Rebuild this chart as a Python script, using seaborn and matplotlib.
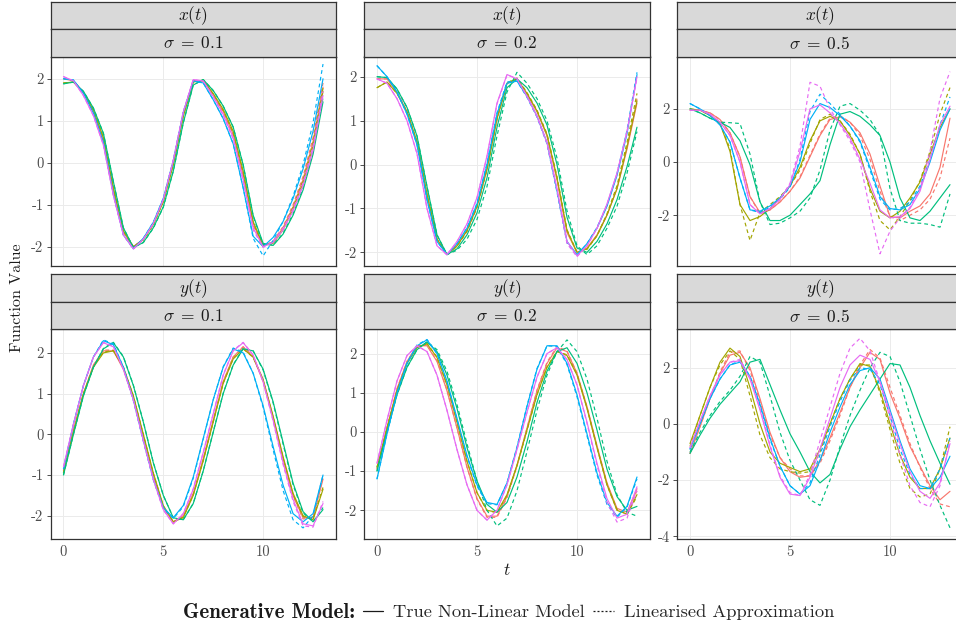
import matplotlib
matplotlib.use("Agg")
import matplotlib.pyplot as plt
import pandas as pd
import seaborn as sns
from matplotlib.lines import Line2D

# time grid shared by every curve
t_grid = [0.0, 0.5, 1.0, 1.5, 2.0, 2.5, 3.0, 3.5, 4.0, 4.5, 5.0, 5.5, 6.0, 6.5,
          7.0, 7.5, 8.0, 8.5, 9.0, 9.5, 10.0, 10.5, 11.0, 11.5, 12.0, 12.5, 13.0]

runs = ["1", "2", "3", "4", "5"]
run_colours = ["#F8766D", "#A3A500", "#00BF7D", "#00B0F6", "#E76BF3"]
models = ["True Non-Linear Model", "Linearised Approximation"]
components = ["x", "y"]
sigmas = ["0.1", "0.2", "0.5"]

# ---- x(t), sigma = 0.1
xa_red_true = [2.0, 1.95, 1.68, 1.22, 0.55, -0.65, -1.65, -2.0, -1.82, -1.45, -0.9, 0.0, 1.15, 1.95, 1.95, 1.62, 1.22, 0.68, -0.3, -1.45, -1.98, -1.88, -1.55, -1.05, -0.4, 0.5, 1.8]
xa_red_lin = [2.0, 1.95, 1.68, 1.22, 0.55, -0.65, -1.65, -2.0, -1.83, -1.46, -0.9, 0.02, 1.17, 1.96, 1.94, 1.6, 1.2, 0.65, -0.35, -1.5, -2.0, -1.87, -1.52, -1.0, -0.33, 0.6, 1.9]
xa_olive_true = [1.9, 1.92, 1.68, 1.25, 0.6, -0.6, -1.62, -2.0, -1.83, -1.47, -0.93, -0.05, 1.1, 1.92, 1.97, 1.65, 1.27, 0.75, -0.2, -1.4, -1.97, -1.92, -1.6, -1.1, -0.48, 0.4, 1.7]
xa_olive_lin = [1.9, 1.92, 1.68, 1.25, 0.6, -0.6, -1.62, -2.0, -1.84, -1.48, -0.93, -0.04, 1.12, 1.93, 1.96, 1.63, 1.25, 0.72, -0.25, -1.43, -1.98, -1.9, -1.57, -1.06, -0.42, 0.48, 1.78]
xa_green_true = [1.88, 1.92, 1.7, 1.3, 0.7, -0.45, -1.55, -2.02, -1.9, -1.55, -1.05, -0.2, 0.95, 1.85, 1.98, 1.72, 1.35, 0.85, -0.05, -1.25, -1.92, -1.97, -1.7, -1.25, -0.65, 0.2, 1.45]
xa_green_lin = [1.88, 1.92, 1.7, 1.3, 0.7, -0.45, -1.55, -2.02, -1.9, -1.56, -1.06, -0.2, 0.95, 1.85, 1.98, 1.72, 1.35, 0.85, -0.05, -1.27, -1.95, -1.96, -1.68, -1.22, -0.6, 0.28, 1.55]
xa_blue_true = [2.0, 1.97, 1.65, 1.18, 0.48, -0.75, -1.72, -2.05, -1.8, -1.42, -0.85, 0.05, 1.2, 1.95, 1.9, 1.5, 1.05, 0.45, -0.6, -1.75, -2.0, -1.78, -1.4, -0.85, -0.15, 0.75, 2.0]
xa_blue_lin = [2.0, 1.97, 1.65, 1.18, 0.48, -0.75, -1.72, -2.05, -1.8, -1.42, -0.85, 0.05, 1.2, 1.95, 1.9, 1.5, 1.05, 0.45, -0.6, -1.8, -2.22, -1.85, -1.4, -0.8, -0.05, 0.95, 2.35]
xa_magenta_true = [2.05, 1.95, 1.6, 1.12, 0.42, -0.78, -1.72, -2.05, -1.82, -1.45, -0.88, 0.05, 1.2, 1.98, 1.95, 1.58, 1.15, 0.6, -0.4, -1.55, -2.0, -1.9, -1.6, -1.15, -0.55, 0.3, 1.6]
xa_magenta_lin = [2.05, 1.95, 1.6, 1.12, 0.42, -0.78, -1.72, -2.06, -1.83, -1.45, -0.87, 0.07, 1.22, 1.98, 1.94, 1.56, 1.12, 0.56, -0.45, -1.6, -2.02, -1.88, -1.56, -1.1, -0.48, 0.4, 1.7]

# ---- x(t), sigma = 0.2
xb_red_true = [1.95, 1.95, 1.65, 1.2, 0.5, -0.7, -1.7, -2.05, -1.85, -1.5, -0.95, -0.1, 1.05, 1.85, 1.95, 1.6, 1.2, 0.65, -0.35, -1.55, -2.0, -1.9, -1.6, -1.15, -0.55, 0.35, 1.4]
xb_red_lin = [1.95, 1.95, 1.65, 1.2, 0.5, -0.7, -1.7, -2.05, -1.86, -1.52, -0.98, -0.12, 1.02, 1.85, 1.96, 1.62, 1.22, 0.66, -0.33, -1.52, -2.0, -1.92, -1.62, -1.15, -0.52, 0.4, 1.5]
xb_olive_true = [1.75, 1.88, 1.62, 1.2, 0.52, -0.68, -1.7, -2.05, -1.85, -1.5, -0.95, -0.1, 1.05, 1.85, 1.95, 1.62, 1.22, 0.68, -0.3, -1.5, -2.0, -1.92, -1.62, -1.15, -0.55, 0.4, 1.45]
xb_olive_lin = [1.75, 1.88, 1.62, 1.2, 0.52, -0.68, -1.7, -2.05, -1.86, -1.52, -0.97, -0.1, 1.05, 1.86, 1.97, 1.64, 1.24, 0.7, -0.27, -1.48, -2.0, -1.93, -1.62, -1.12, -0.48, 0.5, 1.62]
xb_green_true = [2.0, 1.98, 1.72, 1.3, 0.65, -0.5, -1.6, -2.05, -1.92, -1.6, -1.1, -0.3, 0.85, 1.75, 1.95, 1.75, 1.4, 0.9, 0.0, -1.2, -1.9, -2.0, -1.75, -1.35, -0.8, -0.05, 0.85]
xb_green_lin = [2.0, 1.98, 1.72, 1.3, 0.65, -0.5, -1.6, -2.05, -1.95, -1.7, -1.25, -0.5, 0.65, 1.65, 2.1, 1.85, 1.5, 1.0, 0.15, -1.05, -1.85, -2.05, -1.85, -1.45, -0.95, -0.2, 0.75]
xb_blue_true = [2.25, 2.0, 1.65, 1.15, 0.45, -0.8, -1.75, -2.05, -1.8, -1.45, -0.9, 0.0, 1.15, 1.85, 1.9, 1.55, 1.1, 0.5, -0.6, -1.75, -2.05, -1.8, -1.45, -0.95, -0.25, 0.7, 2.05]
xb_blue_lin = [2.25, 2.0, 1.65, 1.15, 0.45, -0.8, -1.75, -2.05, -1.8, -1.44, -0.88, 0.03, 1.18, 1.88, 1.9, 1.53, 1.08, 0.47, -0.63, -1.78, -2.07, -1.8, -1.43, -0.92, -0.2, 0.78, 2.1]
xb_magenta_true = [1.95, 1.85, 1.5, 1.0, 0.25, -1.0, -1.85, -2.05, -1.75, -1.35, -0.75, 0.2, 1.4, 2.05, 1.95, 1.55, 1.1, 0.5, -0.55, -1.75, -2.08, -1.85, -1.45, -0.9, -0.2, 0.75, 2.0]
xb_magenta_lin = [1.95, 1.85, 1.5, 1.0, 0.25, -1.0, -1.85, -2.06, -1.76, -1.36, -0.76, 0.18, 1.38, 2.04, 1.96, 1.56, 1.1, 0.48, -0.58, -1.8, -2.1, -1.85, -1.45, -0.9, -0.2, 0.75, 1.98]

# ---- x(t), sigma = 0.5
xc_red_true = [1.95, 1.95, 1.85, 1.6, 1.1, 0.2, -1.3, -1.9, -1.8, -1.5, -1.1, -0.6, 0.2, 1.0, 1.6, 1.7, 1.5, 1.1, 0.3, -0.9, -2.05, -2.1, -1.85, -1.65, -1.2, -0.2, 1.65]
xc_red_lin = [1.95, 1.95, 1.85, 1.6, 1.1, 0.2, -1.3, -1.95, -1.8, -1.5, -1.1, -0.55, 0.25, 1.05, 1.65, 1.75, 1.5, 1.0, 0.1, -1.1, -2.05, -2.2, -2.0, -1.8, -1.4, -0.6, 0.9]
xc_olive_true = [2.0, 1.95, 1.75, 1.45, 0.4, -1.6, -2.2, -2.05, -1.75, -1.35, -0.9, -0.2, 0.8, 1.55, 1.72, 1.55, 1.0, 0.3, -1.0, -1.85, -2.1, -1.85, -1.35, -0.75, 0.3, 1.3, 2.0]
xc_olive_lin = [2.0, 1.95, 1.75, 1.45, 0.5, -1.6, -2.95, -1.9, -1.6, -1.3, -0.9, -0.3, 0.7, 1.6, 1.8, 1.55, 1.05, 0.3, -1.1, -2.2, -2.55, -2.05, -1.45, -0.7, 0.4, 1.8, 2.8]
xc_green_true = [2.0, 1.85, 1.65, 1.5, 1.3, 0.8, -0.1, -1.5, -2.2, -2.2, -2.0, -1.6, -1.2, -0.7, 0.65, 1.8, 1.9, 1.72, 1.4, 1.0, 0.0, -1.35, -2.1, -2.2, -1.85, -1.35, -0.85]
xc_green_lin = [2.0, 1.85, 1.65, 1.5, 1.48, 1.45, 0.3, -1.5, -2.35, -2.3, -2.1, -1.85, -1.35, -0.3, 1.2, 2.1, 2.2, 1.95, 1.6, 1.0, -1.0, -2.2, -2.3, -2.3, -2.35, -2.45, -1.2]
xc_blue_true = [2.2, 2.0, 1.75, 1.4, 0.75, -0.6, -1.8, -1.85, -1.65, -1.35, -0.9, 0.0, 1.6, 2.2, 2.05, 1.75, 1.35, 0.8, -0.2, -1.3, -1.75, -1.8, -1.6, -1.0, 0.0, 1.2, 2.0]
xc_blue_lin = [2.2, 2.0, 1.75, 1.4, 0.75, -0.6, -1.8, -1.9, -1.7, -1.4, -0.95, 0.1, 1.9, 2.55, 2.2, 1.8, 1.35, 0.75, -0.3, -1.4, -1.8, -1.75, -1.5, -0.9, 0.1, 1.4, 2.45]
xc_magenta_true = [1.95, 1.95, 1.8, 1.5, 1.0, 0.0, -1.6, -1.95, -1.75, -1.4, -0.85, 0.4, 2.0, 2.15, 1.85, 1.45, 0.9, 0.1, -0.8, -1.8, -2.1, -2.05, -1.75, -1.1, 0.1, 1.4, 2.1]
xc_magenta_lin = [1.95, 1.95, 1.8, 1.5, 1.0, 0.0, -1.6, -1.95, -1.75, -1.4, -0.8, 0.6, 3.0, 2.85, 2.0, 1.4, 0.8, 0.0, -1.8, -3.45, -2.6, -2.1, -1.7, -1.0, 0.4, 2.4, 3.4]

# ---- y(t), sigma = 0.1
yd_red_true = [-0.9, 0.1, 1.0, 1.7, 2.05, 2.05, 1.6, 0.9, -0.05, -1.0, -1.8, -2.15, -2.0, -1.45, -0.6, 0.35, 1.3, 1.9, 2.15, 1.9, 1.3, 0.4, -0.6, -1.5, -2.05, -2.05, -1.1]
yd_red_lin = [-0.9, 0.1, 1.0, 1.7, 2.07, 2.07, 1.62, 0.92, -0.04, -1.0, -1.8, -2.17, -2.02, -1.47, -0.62, 0.33, 1.28, 1.9, 2.15, 1.92, 1.33, 0.42, -0.6, -1.52, -2.08, -2.05, -1.05]
yd_olive_true = [-0.95, 0.05, 1.0, 1.65, 2.0, 2.05, 1.65, 0.95, 0.0, -0.95, -1.75, -2.15, -2.05, -1.5, -0.65, 0.3, 1.25, 1.85, 2.1, 1.9, 1.35, 0.45, -0.55, -1.45, -2.0, -2.1, -1.35]
yd_olive_lin = [-0.95, 0.05, 1.0, 1.66, 2.02, 2.06, 1.65, 0.94, -0.01, -0.96, -1.76, -2.15, -2.04, -1.49, -0.64, 0.31, 1.26, 1.86, 2.1, 1.89, 1.33, 0.42, -0.58, -1.48, -2.02, -2.08, -1.3]
yd_green_true = [-1.0, 0.0, 0.95, 1.65, 2.1, 2.25, 1.9, 1.2, 0.3, -0.7, -1.5, -2.05, -2.1, -1.7, -0.9, 0.05, 1.0, 1.7, 2.1, 2.05, 1.6, 0.8, -0.2, -1.2, -1.9, -2.15, -1.85]
yd_green_lin = [-1.0, 0.0, 0.95, 1.65, 2.11, 2.26, 1.91, 1.21, 0.31, -0.69, -1.5, -2.05, -2.1, -1.7, -0.9, 0.06, 1.01, 1.71, 2.11, 2.05, 1.58, 0.77, -0.24, -1.24, -1.93, -2.15, -1.8]
yd_blue_true = [-0.85, 0.25, 1.2, 1.9, 2.3, 2.2, 1.65, 0.85, -0.15, -1.1, -1.8, -2.05, -1.75, -1.05, -0.1, 0.85, 1.65, 2.1, 2.0, 1.5, 0.7, -0.3, -1.25, -1.95, -2.15, -1.95, -1.0]
yd_blue_lin = [-0.85, 0.25, 1.2, 1.9, 2.32, 2.22, 1.65, 0.83, -0.17, -1.12, -1.82, -2.07, -1.78, -1.08, -0.12, 0.85, 1.66, 2.12, 2.02, 1.5, 0.66, -0.38, -1.38, -2.1, -2.3, -2.0, -1.0]
yd_magenta_true = [-0.8, 0.25, 1.2, 1.9, 2.25, 2.15, 1.6, 0.85, -0.15, -1.1, -1.85, -2.2, -1.95, -1.35, -0.45, 0.5, 1.45, 2.05, 2.25, 1.95, 1.3, 0.35, -0.7, -1.6, -2.2, -2.25, -1.7]
yd_magenta_lin = [-0.8, 0.25, 1.2, 1.9, 2.26, 2.16, 1.6, 0.84, -0.16, -1.11, -1.86, -2.2, -1.95, -1.34, -0.44, 0.51, 1.46, 2.06, 2.26, 1.95, 1.28, 0.32, -0.74, -1.65, -2.25, -2.28, -1.65]

# ---- y(t), sigma = 0.2
ye_red_true = [-0.95, 0.1, 1.1, 1.8, 2.2, 2.2, 1.8, 1.05, 0.1, -0.9, -1.7, -2.15, -2.15, -1.65, -0.85, 0.1, 1.05, 1.75, 2.15, 2.05, 1.5, 0.65, -0.35, -1.3, -1.95, -2.05, -1.45]
ye_red_lin = [-0.95, 0.1, 1.1, 1.8, 2.2, 2.22, 1.82, 1.07, 0.1, -0.9, -1.72, -2.18, -2.18, -1.68, -0.87, 0.1, 1.07, 1.78, 2.18, 2.07, 1.5, 0.62, -0.4, -1.36, -2.0, -2.08, -1.5]
ye_olive_true = [-0.9, 0.1, 1.05, 1.75, 2.15, 2.25, 1.9, 1.2, 0.25, -0.75, -1.55, -2.0, -2.05, -1.6, -0.85, 0.05, 0.95, 1.65, 2.05, 1.95, 1.45, 0.6, -0.4, -1.35, -2.0, -2.1, -1.6]
ye_olive_lin = [-0.9, 0.1, 1.05, 1.75, 2.16, 2.26, 1.91, 1.21, 0.26, -0.74, -1.55, -2.01, -2.06, -1.62, -0.87, 0.04, 0.95, 1.66, 2.06, 1.97, 1.47, 0.62, -0.38, -1.33, -1.98, -2.1, -1.65]
ye_green_true = [-1.0, 0.0, 0.95, 1.65, 2.1, 2.3, 2.05, 1.45, 0.6, -0.4, -1.25, -1.85, -2.05, -1.8, -1.15, -0.25, 0.75, 1.55, 2.05, 2.15, 1.75, 1.0, 0.05, -0.95, -1.65, -2.0, -1.9]
ye_green_lin = [-1.0, 0.0, 0.95, 1.65, 2.1, 2.3, 2.1, 1.55, 0.7, -0.3, -1.25, -2.0, -2.4, -2.2, -1.5, -0.5, 0.55, 1.45, 2.05, 2.35, 2.05, 1.35, 0.35, -0.75, -1.6, -2.05, -2.15]
ye_blue_true = [-1.2, -0.05, 1.0, 1.75, 2.2, 2.35, 2.0, 1.3, 0.35, -0.6, -1.35, -1.8, -1.85, -1.3, -0.4, 0.65, 1.6, 2.2, 2.2, 1.75, 0.95, -0.05, -1.05, -1.8, -2.15, -1.9, -1.15]
ye_blue_lin = [-1.2, -0.05, 1.0, 1.76, 2.22, 2.36, 2.0, 1.28, 0.32, -0.63, -1.38, -1.83, -1.86, -1.3, -0.38, 0.67, 1.62, 2.2, 2.18, 1.72, 0.9, -0.1, -1.1, -1.85, -2.18, -1.92, -1.2]
ye_magenta_true = [-0.8, 0.3, 1.3, 1.95, 2.2, 2.05, 1.45, 0.55, -0.45, -1.35, -2.0, -2.25, -2.0, -1.35, -0.45, 0.5, 1.4, 2.0, 2.15, 1.85, 1.2, 0.25, -0.8, -1.7, -2.2, -2.1, -1.4]
ye_magenta_lin = [-0.8, 0.3, 1.3, 1.95, 2.2, 2.05, 1.45, 0.55, -0.45, -1.35, -2.0, -2.25, -2.0, -1.35, -0.45, 0.5, 1.4, 2.0, 2.15, 1.85, 1.2, 0.22, -0.85, -1.8, -2.3, -2.2, -1.5]

# ---- y(t), sigma = 0.5
yf_red_true = [-1.05, -0.1, 0.9, 1.8, 2.45, 2.55, 2.0, 0.9, -0.3, -1.2, -1.7, -1.9, -1.85, -1.3, -0.5, 0.4, 1.3, 2.0, 2.55, 2.3, 1.1, 0.2, -0.8, -1.5, -2.2, -2.7, -2.4]
yf_red_lin = [-1.05, -0.1, 0.9, 1.85, 2.55, 2.6, 1.9, 0.8, -0.4, -1.2, -1.6, -1.85, -1.85, -1.4, -0.6, 0.3, 1.3, 2.1, 2.65, 2.35, 1.3, 0.3, -0.7, -1.55, -2.3, -2.85, -2.95]
yf_olive_true = [-0.7, 0.3, 1.3, 2.2, 2.7, 2.4, 1.3, 0.0, -1.0, -1.4, -1.55, -1.7, -1.6, -0.9, 0.0, 0.9, 1.6, 2.15, 2.05, 1.2, 0.0, -1.1, -1.9, -2.3, -2.3, -1.6, -0.5]
yf_olive_lin = [-0.8, 0.3, 1.3, 2.1, 2.6, 2.3, 1.0, -0.4, -1.2, -1.6, -1.7, -1.75, -1.7, -1.0, 0.0, 0.9, 1.6, 2.1, 2.1, 1.1, -0.2, -1.4, -2.3, -2.6, -2.5, -1.6, -0.1]
yf_green_true = [-1.05, -0.4, 0.2, 0.7, 1.1, 1.5, 2.2, 2.3, 1.4, 0.5, -0.35, -1.0, -1.7, -2.1, -1.8, -0.9, -0.1, 0.5, 1.05, 1.6, 2.15, 2.1, 1.3, 0.3, -0.6, -1.4, -2.15]
yf_green_lin = [-1.0, -0.3, 0.3, 0.8, 1.2, 1.7, 2.4, 2.2, 1.0, -0.3, -1.3, -2.0, -2.7, -2.9, -2.0, -0.8, 0.3, 1.2, 2.0, 2.55, 2.4, 1.5, 0.3, -0.9, -2.0, -2.9, -3.7]
yf_blue_true = [-0.9, 0.0, 0.9, 1.6, 2.1, 2.2, 1.7, 0.7, -0.5, -1.5, -2.2, -2.5, -2.2, -1.3, -0.3, 0.6, 1.4, 1.9, 2.0, 1.6, 0.5, -0.6, -1.6, -2.2, -2.3, -1.9, -1.15]
yf_blue_lin = [-0.9, 0.0, 0.9, 1.6, 2.1, 2.25, 1.7, 0.65, -0.55, -1.5, -2.2, -2.5, -2.1, -1.1, -0.1, 0.8, 1.55, 2.0, 1.95, 1.4, 0.3, -0.9, -1.8, -2.3, -2.3, -1.6, -0.5]
yf_magenta_true = [-0.85, 0.1, 1.0, 1.75, 2.2, 2.25, 1.6, 0.5, -0.8, -1.9, -2.5, -2.55, -1.9, -0.9, 0.2, 1.3, 2.1, 2.45, 2.3, 1.5, 0.4, -0.7, -1.7, -2.4, -2.65, -2.1, -0.7]
yf_magenta_lin = [-0.85, 0.1, 1.0, 1.75, 2.2, 2.3, 1.65, 0.55, -0.75, -1.85, -2.45, -2.55, -1.8, -0.6, 0.6, 1.8, 2.7, 3.05, 2.6, 1.5, 0.2, -1.1, -2.2, -2.8, -2.95, -2.2, -0.6]

panel_series = {
    ("x", "0.1"): [xa_red_true, xa_red_lin, xa_olive_true, xa_olive_lin, xa_green_true, xa_green_lin,
                   xa_blue_true, xa_blue_lin, xa_magenta_true, xa_magenta_lin],
    ("x", "0.2"): [xb_red_true, xb_red_lin, xb_olive_true, xb_olive_lin, xb_green_true, xb_green_lin,
                   xb_blue_true, xb_blue_lin, xb_magenta_true, xb_magenta_lin],
    ("x", "0.5"): [xc_red_true, xc_red_lin, xc_olive_true, xc_olive_lin, xc_green_true, xc_green_lin,
                   xc_blue_true, xc_blue_lin, xc_magenta_true, xc_magenta_lin],
    ("y", "0.1"): [yd_red_true, yd_red_lin, yd_olive_true, yd_olive_lin, yd_green_true, yd_green_lin,
                   yd_blue_true, yd_blue_lin, yd_magenta_true, yd_magenta_lin],
    ("y", "0.2"): [ye_red_true, ye_red_lin, ye_olive_true, ye_olive_lin, ye_green_true, ye_green_lin,
                   ye_blue_true, ye_blue_lin, ye_magenta_true, ye_magenta_lin],
    ("y", "0.5"): [yf_red_true, yf_red_lin, yf_olive_true, yf_olive_lin, yf_green_true, yf_green_lin,
                   yf_blue_true, yf_blue_lin, yf_magenta_true, yf_magenta_lin],
}

# long table for seaborn
rows = []
for (comp, sig), curves in panel_series.items():
    for i, vals in enumerate(curves):
        run = runs[i // 2]
        model = models[i % 2]
        for t, v in zip(t_grid, vals):
            rows.append({"component": comp, "sigma": sig, "run": run, "model": model, "t": t, "value": v})
df = pd.DataFrame(rows)

# axis limits / ticks per panel
ylims = {("x", "0.1"): (-2.46, 2.53), ("x", "0.2"): (-2.31, 2.46), ("x", "0.5"): (-3.91, 3.97),
         ("y", "0.1"): (-2.56, 2.58), ("y", "0.2"): (-2.72, 2.62), ("y", "0.5"): (-4.08, 3.37)}
yticks = {("x", "0.1"): [-2, -1, 0, 1, 2], ("x", "0.2"): [-2, -1, 0, 1, 2], ("x", "0.5"): [-2, 0, 2],
          ("y", "0.1"): [-2, -1, 0, 1, 2], ("y", "0.2"): [-2, -1, 0, 1, 2], ("y", "0.5"): [-4, -2, 0, 2]}

sns.set_theme(style="white")
plt.rcParams["font.family"] = ["cmr10", "DejaVu Serif"]
plt.rcParams["mathtext.fontset"] = "cm"
plt.rcParams["axes.unicode_minus"] = False

W, H = 956, 628
fig = plt.figure(figsize=(W / 100, H / 100), dpi=100)

col_px = [(50.5, 336), (364, 650), (677, 963)]
row_px = [(56.5, 266), (329.3, 538.5)]
strip_px = [(1.5, 28.5, 56.5), (274.3, 301.7, 329.3)]


def box(l, t, r, b):
    return [l / W, 1 - b / H, (r - l) / W, (b - t) / H]


def add_strip(l, t, r, b, label):
    s = fig.add_axes(box(l, t, r, b))
    s.set_facecolor("#D9D9D9")
    s.set_xticks([])
    s.set_yticks([])
    for sp in s.spines.values():
        sp.set_color("#333333")
        sp.set_linewidth(0.9)
    s.text(0.5, 0.48, label, transform=s.transAxes, ha="center", va="center",
           fontsize=12.5, color="#1A1A1A")


palette = dict(zip(runs, run_colours))
dash_map = {models[0]: "", models[1]: (3.2, 2.6)}

for ri, comp in enumerate(components):
    for ci, sig in enumerate(sigmas):
        l, r = col_px[ci]
        top, bot = row_px[ri]
        ax = fig.add_axes(box(l, top, r, bot))
        sub = df[(df["component"] == comp) & (df["sigma"] == sig)]
        sns.lineplot(data=sub, x="t", y="value", hue="run", style="model",
                     hue_order=runs, style_order=models, palette=palette,
                     dashes=dash_map, linewidth=0.85, legend=False,
                     errorbar=None, ax=ax)
        ax.set_xlim(-0.65, 13.65)
        ax.set_ylim(*ylims[(comp, sig)])
        ax.set_xticks([0, 5, 10])
        ax.set_yticks(yticks[(comp, sig)])
        ax.set_yticklabels([str(v) for v in yticks[(comp, sig)]])
        if ri == 1:
            ax.set_xticklabels(["0", "5", "10"])
            ax.tick_params(axis="x", length=3, width=0.6, color="#333333",
                           labelcolor="#4D4D4D", labelsize=10.5, pad=2)
        else:
            ax.set_xticklabels([])
            ax.tick_params(axis="x", length=0)
        ax.tick_params(axis="y", length=3, width=0.6, color="#333333",
                       labelcolor="#4D4D4D", labelsize=10.5, pad=2, left=True)
        ax.grid(True, color="#EBEBEB", linewidth=0.7)
        ax.set_axisbelow(True)
        ax.set_xlabel("")
        ax.set_ylabel("")
        for sp in ax.spines.values():
            sp.set_color("#333333")
            sp.set_linewidth(0.9)

        s1, s2, s3 = strip_px[ri]
        add_strip(l, s1, r, s2, r"$%s(t)$" % comp)
        add_strip(l, s2, r, s3, r"$\sigma\;=\;%s$" % sig)

fig.text(17 / W, 1 - 298 / H, "Function Value", rotation=90, ha="center", va="center",
         fontsize=11.5, color="#1A1A1A")
fig.text(507 / W, 1 - 570 / H, r"$t$", ha="center", va="center", fontsize=12.5, color="#1A1A1A")

# legend along the bottom
fig.text(183 / W, 1 - 612 / H, "Generative Model:", ha="left", va="center",
         fontsize=15, fontfamily="cmb10", color="#1A1A1A")
handles = [Line2D([], [], color="#1A1A1A", lw=0.9),
           Line2D([], [], color="#1A1A1A", lw=0.9, dashes=(1.6, 1.6))]
fig.legend(handles, models, loc="center left", bbox_to_anchor=(363 / W, 1 - 612 / H),
           ncol=2, frameon=False, handlelength=1.1, handletextpad=0.55, columnspacing=0.45,
           fontsize=13.3, borderaxespad=0, borderpad=0)

fig.savefig("out.png", dpi=100)
